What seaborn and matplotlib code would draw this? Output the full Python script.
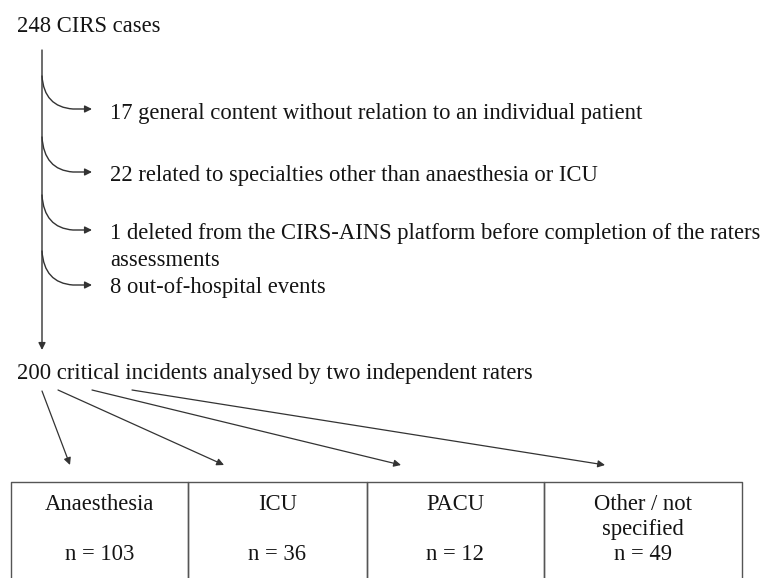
import matplotlib
matplotlib.use("Agg")
import matplotlib.pyplot as plt
import seaborn as sns
from matplotlib.path import Path
from matplotlib.patches import FancyArrowPatch

sns.set_theme(style="white")
plt.rcParams['font.family'] = ['Liberation Serif', 'DejaVu Serif']

# ---- data ----
total_label = "248 CIRS cases"
excluded_counts = [17, 22, 1, 8]
excluded_reasons = [
    "general content without relation to an individual patient",
    "related to specialties other than anaesthesia or ICU",
    "deleted from the CIRS-AINS platform before completion of the raters\nassessments",
    "out-of-hospital events",
]
analysed_label = "200 critical incidents analysed by two independent raters"
categories = ["Anaesthesia", "ICU", "PACU", "Other / not\nspecified"]
category_counts = [103, 36, 12, 49]

# ---- layout (pixel coordinates) ----
W, H = 766, 578
fig = plt.figure(figsize=(W / 100, H / 100), dpi=100)
ax = fig.add_axes([0, 0, 1, 1])
ax.set_xlim(0, W)
ax.set_ylim(H, 0)
ax.axis("off")

# fit font size so the longest exclusion line spans ~650 px like the reference
renderer = fig.canvas.get_renderer()
probe = ax.text(0, 0, f"{excluded_counts[2]} {excluded_reasons[2].split(chr(10))[0]}", fontsize=12)
w12 = probe.get_window_extent(renderer).width
probe.remove()
FS = 12 * 648 / w12

col = "#141414"
lc = "#333333"
DY = 2  # small vertical text offset

ax.text(17, 25 + DY, total_label, fontsize=FS, va="center", ha="left", color=col)

# main vertical arrow
vx = 42
ax.add_patch(FancyArrowPatch((vx, 50), (vx, 350), arrowstyle="-|>", mutation_scale=10.5,
                             color=lc, lw=1.0, shrinkA=0, shrinkB=0))

arrow_y = [109, 172, 230, 285]
curve_start = [76, 137, 195, 251]
text_y = [111, 173, 232, 286]
for cnt, reason, ay, cy, ty in zip(excluded_counts, excluded_reasons, arrow_y, curve_start, text_y):
    verts = [(vx, cy), (vx + 2, ay - 2), (vx + 31, ay), (vx + 50, ay)]
    codes = [Path.MOVETO, Path.CURVE3, Path.CURVE3, Path.LINETO]
    ax.add_patch(FancyArrowPatch(path=Path(verts, codes), arrowstyle="-|>", mutation_scale=10.5,
                                 color=lc, lw=1.0, shrinkA=0, shrinkB=0))
    lines = f"{cnt} {reason}".split("\n")
    for k, ln in enumerate(lines):
        ax.text(110, ty + DY + 26 * k, ln, fontsize=FS, va="center", ha="left", color=col)

ax.text(17, 372 + DY, analysed_label, fontsize=FS, va="center", ha="left", color=col)

# diagonal arrows
starts = [(42, 391), (58, 390), (92, 390), (132, 390)]
ends = [(70, 465), (224, 465), (401, 465), (605, 465)]
for s, e in zip(starts, ends):
    ax.add_patch(FancyArrowPatch(s, e, arrowstyle="-|>", mutation_scale=10.5,
                                 color=lc, lw=0.9, shrinkA=0, shrinkB=0))

# boxes
edges = [11, 188, 367, 544, 742]
top = 482
for i, (cat, n) in enumerate(zip(categories, category_counts)):
    x0, x1 = edges[i], edges[i + 1]
    ax.plot([x0, x0, x1, x1], [H + 5, top, top, H + 5], color="#555555", lw=1.0, clip_on=False)
    cx = (x0 + x1) / 2
    for k, ln in enumerate(cat.split("\n")):
        ax.text(cx, 503 + DY + 25 * k, ln, fontsize=FS, va="center", ha="center", color=col)
    ax.text(cx, 553 + DY, f"n = {n}", fontsize=FS, va="center", ha="center", color=col)

fig.savefig("out.png", dpi=100, facecolor="white")
